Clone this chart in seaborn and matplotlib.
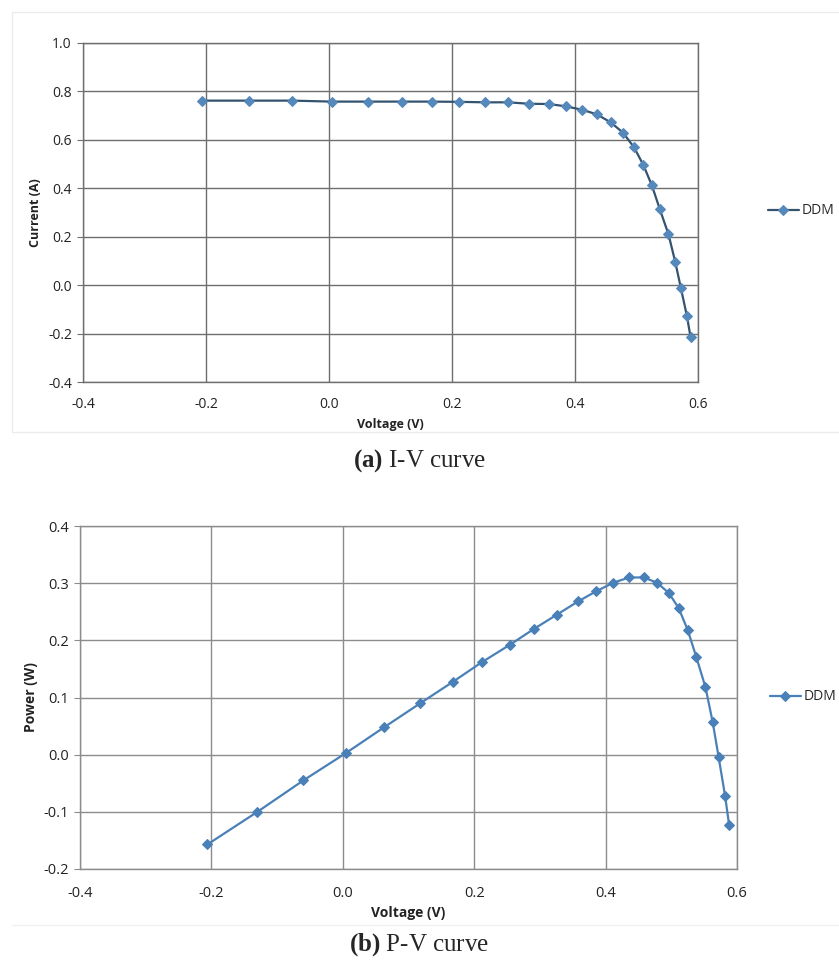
import numpy as np
import pandas as pd
import matplotlib
matplotlib.use('Agg')
import matplotlib.pyplot as plt
import seaborn as sns
from matplotlib.patches import Rectangle

# values
voltage = [-0.206, -0.130, -0.060, 0.005, 0.063, 0.118, 0.167, 0.212, 0.254, 0.291,
           0.326, 0.358, 0.386, 0.412, 0.436, 0.458, 0.478, 0.496, 0.511, 0.525,
           0.538, 0.552, 0.563, 0.572, 0.582, 0.588]
current = [0.762, 0.762, 0.762, 0.758, 0.758, 0.758, 0.758, 0.757, 0.755, 0.755,
           0.749, 0.748, 0.738, 0.724, 0.705, 0.672, 0.630, 0.569, 0.497, 0.412,
           0.313, 0.210, 0.096, -0.010, -0.128, -0.216]
power = [-0.157, -0.100, -0.045, 0.003, 0.048, 0.090, 0.127, 0.162, 0.192, 0.220,
         0.245, 0.268, 0.286, 0.301, 0.310, 0.310, 0.301, 0.283, 0.257, 0.218,
         0.171, 0.118, 0.057, -0.004, -0.073, -0.123]

iv_ticks_y = [-0.4, -0.2, 0.0, 0.2, 0.4, 0.6, 0.8, 1.0]
pv_ticks_y = [-0.2, -0.1, 0.0, 0.1, 0.2, 0.3, 0.4]
ticks_x = [-0.4, -0.2, 0.0, 0.2, 0.4, 0.6]

df = pd.DataFrame({'Voltage': voltage, 'Current': current, 'Power': power})

sns.set_style('white')
plt.rcParams['font.family'] = ['Open Sans', 'DejaVu Sans']

W, H = 839, 965
fig = plt.figure(figsize=(W / 100, H / 100), dpi=100)


def box(l, t, r, b):
    return [l / W, 1 - b / H, (r - l) / W, (b - t) / H]


# faint panel frames like the scanned figure
fig.patches.append(Rectangle((12 / W, 1 - 432 / H), 1, 420 / H, transform=fig.transFigure,
                             fill=False, edgecolor='#ececec', lw=1.0))
fig.add_artist(plt.Line2D([12 / W, 1], [1 - 925 / H, 1 - 925 / H], transform=fig.transFigure,
                          color='#f0f0f0', lw=1.0))


def panel(ax, y, yticks, ylabel, line_color, marker_color, grid_color, leg_x, leg_y, fs, lfs, xpad):
    sns.lineplot(data=df, x='Voltage', y=y, ax=ax, color=line_color, lw=1.6,
                 marker='D', markersize=5, markerfacecolor=marker_color,
                 markeredgecolor=marker_color, label='DDM', sort=False)
    ax.set_xlim(-0.4, 0.6)
    ax.set_ylim(yticks[0], yticks[-1])
    ax.set_xticks(ticks_x)
    ax.set_yticks(yticks)
    ax.set_xticklabels([f'{t:.1f}' for t in ticks_x])
    ax.set_yticklabels([f'{t:.1f}' for t in yticks])
    ax.grid(True, color=grid_color, lw=1.0)
    for s in ax.spines.values():
        s.set_color(grid_color)
        s.set_linewidth(1.0)
    ax.tick_params(axis='both', labelsize=fs, colors='#222222', length=0)
    ax.tick_params(axis='x', pad=xpad)
    ax.tick_params(axis='y', length=4, color=grid_color, pad=4, left=True)
    ax.set_xlabel('Voltage (V)', fontsize=lfs, fontweight='bold', color='#222222')
    ax.set_ylabel(ylabel, fontsize=lfs, fontweight='bold', color='#222222')
    ax.legend(loc='center left', bbox_to_anchor=(leg_x / W, 1 - leg_y / H),
              bbox_transform=fig.transFigure, frameon=False, borderpad=0, borderaxespad=0,
              fontsize=10, handlelength=2.2, handletextpad=0.2)


ax1 = fig.add_axes(box(83, 43, 698, 382))
panel(ax1, 'Current', iv_ticks_y, 'Current (A)', '#33536f', '#5588bb', '#6e6e6e',
      768, 211, 10, 9, 11)
ax1.xaxis.labelpad = 4

ax2 = fig.add_axes(box(80, 526, 737, 869))
panel(ax2, 'Power', pv_ticks_y, 'Power (W)', '#4a80b8', '#4a80b8', '#8c8c8c',
      770, 697, 10.5, 10, 12)
ax2.xaxis.labelpad = 4

plt.rcParams['mathtext.fontset'] = 'custom'
plt.rcParams['mathtext.bf'] = 'Liberation Serif:bold'
plt.rcParams['mathtext.rm'] = 'Liberation Serif'
fig.text(0.5, 1 - 461 / H, r'$\mathbf{(a)}$ I-V curve', ha='center', va='center',
         fontsize=18, family='Liberation Serif')
fig.text(0.5, 1 - 945 / H, r'$\mathbf{(b)}$ P-V curve', ha='center', va='center',
         fontsize=18, family='Liberation Serif')

fig.savefig('out.png', dpi=100)
